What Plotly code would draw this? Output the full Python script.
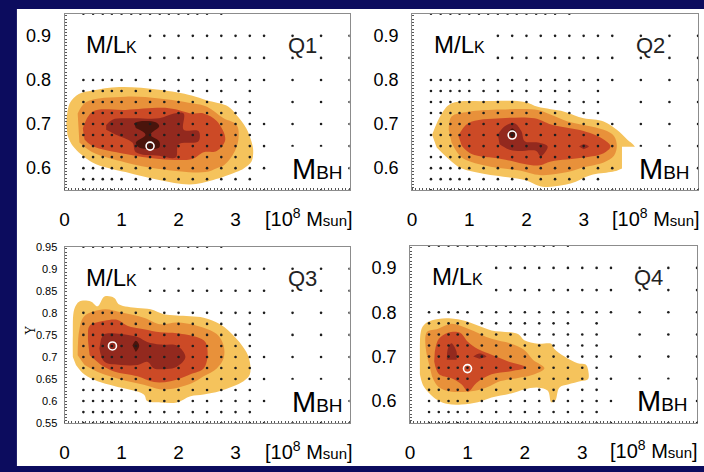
import plotly.graph_objects as go

W, H = 704, 472
BLUE = "#0c0c5e"
C_LEVELS = ["#F5C35C", "#E8913A", "#CC4A26", "#93291E", "#4A140C"]
FONT = "Liberation Sans, Arial, sans-serif"

# ---- model grid (black dots) : columns per row ----
MAIN = [0.33, 0.5, 0.67, 0.83, 1.0, 1.25, 1.5, 1.75, 2.0, 2.25, 2.5, 2.75, 3.0, 3.25]
FAR = [3.5, 4.0, 4.5, 5.0]
TOP_ROW = [0.33, 0.5, 0.67, 0.83, 1.0, 1.17, 1.33, 1.5, 1.67, 1.83, 2.0, 2.17, 2.33, 2.5, 2.75]
UPPER = [1.5, 1.75, 2.0, 2.25, 2.5, 2.75, 3.0, 3.25, 3.5, 4.0, 4.5, 5.0]
GRID_ROWS = [
    (0.95, TOP_ROW), (0.9, UPPER), (0.85, UPPER), (0.8, MAIN + FAR),
    (0.775, [c for c in MAIN if c != 3.0]), (0.75, MAIN + [4.0, 4.5, 5.0]),
    (0.725, MAIN), (0.7, MAIN + FAR), (0.675, MAIN), (0.65, MAIN + FAR),
    (0.625, MAIN), (0.6, MAIN + FAR), (0.575, MAIN), (0.55, MAIN + FAR),
]

# ---- confidence regions (outline vertices, x in 1e8 Msun, y = M/L) ----
Q1_YELLOW = [(0.03, 0.702), (0.09, 0.747), (0.25, 0.768), (0.49, 0.776), (0.96, 0.784), (1.66, 0.778),
             (2.23, 0.765), (2.49, 0.754), (2.87, 0.74), (3.02, 0.72), (3.19, 0.69), (3.28, 0.66),
             (3.31, 0.64), (3.28, 0.615), (3.15, 0.6), (3.01, 0.591), (2.61, 0.573), (2.2, 0.563),
             (1.66, 0.573), (1.07, 0.591), (0.49, 0.613), (0.145, 0.65), (0.05, 0.675)]
Q1_ORANGE = [(0.23, 0.724), (0.38, 0.75), (1.07, 0.762), (1.66, 0.758), (2.24, 0.747), (2.5, 0.739),
             (2.79, 0.713), (3.02, 0.698), (3.05, 0.665), (2.96, 0.632), (2.79, 0.606), (2.67, 0.6),
             (2.47, 0.591), (1.66, 0.598), (1.07, 0.613), (0.49, 0.636), (0.26, 0.658)]
Q1_RED = [(0.32, 0.69), (0.49, 0.728), (1.07, 0.732), (1.83, 0.736), (2.24, 0.724), (2.44, 0.724),
          (2.67, 0.707), (2.82, 0.665), (2.67, 0.639), (2.44, 0.636), (2.24, 0.621), (1.66, 0.621),
          (1.07, 0.632), (0.49, 0.65), (0.35, 0.665)]
Q1_DARK = [(0.73, 0.698), (0.84, 0.71), (1.19, 0.713), (1.66, 0.713), (1.92, 0.724), (2.09, 0.724),
           (2.09, 0.687), (2.35, 0.684), (2.35, 0.661), (2.0, 0.654), (1.95, 0.624), (1.66, 0.628),
           (1.25, 0.636), (1.19, 0.658), (0.9, 0.676), (0.73, 0.687)]
Q1_DARKEST = [(1.22, 0.702), (1.31, 0.706), (1.6, 0.704), (1.66, 0.695), (1.51, 0.676), (1.66, 0.661),
              (1.66, 0.647), (1.31, 0.647), (1.25, 0.658), (1.42, 0.676), (1.25, 0.691)]
Q1_BEST = (1.5, 0.65)

Q2_YELLOW = [(0.35, 0.676), (0.52, 0.724), (0.69, 0.747), (1.27, 0.752), (1.97, 0.75), (2.2, 0.739),
             (2.66, 0.728), (3.0, 0.713), (3.35, 0.706), (3.58, 0.687), (3.76, 0.665), (3.9, 0.647),
             (3.85, 0.615), (3.6, 0.595), (3.47, 0.591), (3.12, 0.584), (2.77, 0.565), (2.28, 0.558),
             (1.97, 0.573), (1.27, 0.587), (0.87, 0.599), (0.64, 0.621), (0.43, 0.647)]
Q2_ORANGE = [(0.64, 0.687), (0.69, 0.717), (0.98, 0.728), (1.56, 0.733), (2.2, 0.732), (2.43, 0.721),
             (2.72, 0.706), (3.35, 0.687), (3.53, 0.673), (3.58, 0.65), (3.53, 0.628), (3.35, 0.613),
             (3.0, 0.602), (2.72, 0.591), (2.25, 0.584), (1.85, 0.595), (1.27, 0.606), (0.87, 0.624),
             (0.69, 0.658)]
Q2_RED = [(0.81, 0.673), (0.98, 0.702), (1.56, 0.713), (2.14, 0.713), (2.43, 0.699), (3.0, 0.684),
          (3.35, 0.665), (3.47, 0.649), (3.35, 0.634), (3.0, 0.624), (2.43, 0.615), (2.2, 0.606),
          (1.56, 0.621), (1.04, 0.632), (0.87, 0.65)]
Q2_DARK = [(1.5, 0.676), (1.62, 0.695), (1.79, 0.702), (1.91, 0.684), (1.97, 0.661), (2.2, 0.658),
           (2.37, 0.649), (2.25, 0.627), (2.17, 0.639), (1.85, 0.639), (1.68, 0.643), (1.53, 0.654)]
Q2_DARK_B = [(2.92, 0.649), (3.0, 0.654), (3.09, 0.649), (3.0, 0.643)]
Q2_DARKEST = [(1.68, 0.68), (1.75, 0.69), (1.82, 0.68), (1.75, 0.666)]
Q2_BEST = (1.75, 0.675)

Q3_YELLOW = [(0.145, 0.7), (0.145, 0.749), (0.17, 0.808), (0.26, 0.826), (0.46, 0.826), (0.58, 0.815),
             (0.7, 0.837), (0.87, 0.834), (0.96, 0.819), (1.28, 0.811), (1.51, 0.808), (1.74, 0.797),
             (1.97, 0.794), (2.44, 0.789), (2.73, 0.774), (3.02, 0.741), (3.19, 0.711), (3.25, 0.689),
             (3.25, 0.66), (3.14, 0.645), (2.73, 0.623), (2.44, 0.615), (2.21, 0.611), (1.97, 0.597),
             (1.68, 0.597), (1.45, 0.6), (1.39, 0.615), (0.87, 0.634), (0.58, 0.645), (0.35, 0.66),
             (0.2, 0.682)]
Q3_ORANGE = [(0.23, 0.704), (0.26, 0.763), (0.35, 0.793), (0.7, 0.808), (0.96, 0.802), (1.39, 0.789),
             (1.68, 0.774), (1.97, 0.778), (2.32, 0.771), (2.67, 0.752), (2.79, 0.726), (2.79, 0.697),
             (2.67, 0.674), (2.44, 0.656), (2.21, 0.639), (1.74, 0.626), (1.39, 0.637), (0.99, 0.649),
             (0.64, 0.663), (0.35, 0.682)]
Q3_RED = [(0.44, 0.704), (0.41, 0.749), (0.44, 0.771), (0.7, 0.782), (0.93, 0.784), (1.1, 0.771),
          (1.39, 0.763), (1.68, 0.756), (1.97, 0.754), (2.32, 0.745), (2.47, 0.734), (2.51, 0.704),
          (2.44, 0.674), (2.21, 0.661), (1.86, 0.645), (1.57, 0.643), (1.28, 0.656), (0.87, 0.667),
          (0.64, 0.682)]
Q3_DARK = [(0.64, 0.741), (0.7, 0.752), (0.99, 0.752), (1.28, 0.745), (1.45, 0.734), (1.68, 0.728),
           (1.97, 0.726), (2.12, 0.7), (1.97, 0.678), (1.8, 0.673), (1.57, 0.674), (1.45, 0.689),
           (1.28, 0.682), (0.99, 0.682), (0.7, 0.689), (0.61, 0.719)]
Q3_DARKEST = [(1.19, 0.726), (1.25, 0.737), (1.31, 0.726), (1.25, 0.711)]
Q3_BEST = (0.84, 0.725)

Q4_YELLOW = [(0.17, 0.726), (0.2, 0.763), (0.29, 0.777), (0.49, 0.785), (0.72, 0.786), (0.95, 0.781),
             (1.18, 0.77), (1.42, 0.759), (1.88, 0.751), (1.99, 0.737), (2.23, 0.729), (2.46, 0.729),
             (2.51, 0.718), (2.69, 0.7), (2.92, 0.685), (3.06, 0.682), (3.1, 0.671), (3.1, 0.649),
             (2.98, 0.645), (2.75, 0.637), (2.6, 0.63), (2.53, 0.601), (2.46, 0.597), (2.4, 0.623),
             (2.23, 0.63), (1.99, 0.626), (1.76, 0.617), (1.42, 0.608), (1.18, 0.597), (0.9, 0.592),
             (0.66, 0.593), (0.49, 0.601), (0.35, 0.615), (0.23, 0.634), (0.17, 0.66)]
Q4_ORANGE = [(0.29, 0.704), (0.29, 0.755), (0.49, 0.763), (0.72, 0.774), (1.01, 0.763), (1.42, 0.74),
             (1.76, 0.729), (1.99, 0.715), (2.14, 0.693), (2.34, 0.674), (2.11, 0.658), (1.88, 0.652),
             (1.53, 0.643), (1.36, 0.632), (1.13, 0.623), (0.72, 0.621), (0.49, 0.632), (0.38, 0.656)]
Q4_RED = [(0.43, 0.711), (0.5, 0.74), (0.66, 0.754), (0.87, 0.754), (1.01, 0.733), (1.18, 0.717),
          (1.42, 0.704), (1.71, 0.689), (2.02, 0.676), (1.76, 0.667), (1.42, 0.66), (1.16, 0.641),
          (1.01, 0.621), (0.9, 0.637), (0.72, 0.651), (0.5, 0.661), (0.42, 0.689)]
Q4_DARK = [(0.64, 0.693), (0.66, 0.719), (0.72, 0.73), (0.81, 0.711), (0.81, 0.693)]
Q4_DARK_B = [(1.1, 0.7), (1.21, 0.707), (1.33, 0.7), (1.21, 0.695)]
Q4_BEST = (1.0, 0.673)

PANELS = [
    dict(name="Q1", regions=[(0, Q1_YELLOW), (1, Q1_ORANGE), (2, Q1_RED), (3, Q1_DARK), (4, Q1_DARKEST)],
         best=Q1_BEST, box=(60, 347, 8, 189)),
    dict(name="Q2", regions=[(0, Q2_YELLOW), (1, Q2_ORANGE), (2, Q2_RED), (3, Q2_DARK), (3, Q2_DARK_B),
                             (4, Q2_DARKEST)],
         best=Q2_BEST, box=(410, 698, 8, 189)),
    dict(name="Q3", regions=[(0, Q3_YELLOW), (1, Q3_ORANGE), (2, Q3_RED), (3, Q3_DARK), (4, Q3_DARKEST)],
         best=Q3_BEST, box=(60, 347, 247, 428)),
    dict(name="Q4", regions=[(0, Q4_YELLOW), (1, Q4_ORANGE), (2, Q4_RED), (3, Q4_DARK), (3, Q4_DARK_B)],
         best=Q4_BEST, box=(408, 697, 246, 428)),
]

X_TICKS = [0, 1, 2, 3]
Y_TICKS = [0.6, 0.7, 0.8, 0.9]
Y_TICKS_FINE = [0.55, 0.6, 0.65, 0.7, 0.75, 0.8, 0.85, 0.9, 0.95]
Y_TICKS_FINE_TEXT = ["0.55", "0.6", "0.65", "0.7", "0.75", "0.8", "0.85", "0.9", "0.95"]


def px(x):
    return x / W


def py(y):
    return 1 - y / H


fig = go.Figure()
layout = dict(
    width=W, height=H, margin=dict(l=0, r=0, t=0, b=0),
    paper_bgcolor=BLUE, plot_bgcolor="white", showlegend=False,
)
shapes = [dict(type="rect", xref="paper", yref="paper", x0=px(12), x1=1.0, y0=0.0, y1=py(3),
               fillcolor="white", line=dict(width=0), layer="below")]
annotations = []

dot_x, dot_y = [], []
for yv, cols in GRID_ROWS:
    for c in cols:
        dot_x.append(c)
        dot_y.append(yv)

for i, p in enumerate(PANELS):
    k = "" if i == 0 else str(i + 1)
    xa, ya = "x" + k, "y" + k
    x0, x1, y0, y1 = p["box"]
    for lvl, poly in p["regions"]:
        fig.add_trace(go.Scatter(x=[v[0] for v in poly], y=[v[1] for v in poly], mode="lines",
                                 fill="toself", fillcolor=C_LEVELS[lvl], line=dict(width=0, color=C_LEVELS[lvl]),
                                 line_shape="spline", hoverinfo="skip", xaxis=xa, yaxis=ya))
    fig.add_trace(go.Scatter(x=dot_x, y=dot_y, mode="markers", marker=dict(size=2.6, color="#1e1e1e"),
                             hoverinfo="skip", xaxis=xa, yaxis=ya))
    fig.add_trace(go.Scatter(x=[p["best"][0]], y=[p["best"][1]], mode="markers",
                             marker=dict(symbol="circle-open", size=8, color="white", line=dict(width=1.6)),
                             xaxis=xa, yaxis=ya))
    fine = (i == 2)
    layout["xaxis" + k] = dict(
        domain=[px(x0), px(x1)], range=[0, 5], anchor=ya, showline=True, mirror=True,
        linecolor="#8c8c8c", linewidth=1, showgrid=False, zeroline=False,
        tickvals=X_TICKS, ticks="", ticklabelstandoff=12, tickfont=dict(family=FONT, size=19, color="black"),
        minor=dict(ticks="inside", ticklen=2, dtick=0.0625, tickcolor="#555", tickwidth=1),
    )
    layout["yaxis" + k] = dict(
        domain=[py(y1), py(y0)], range=[0.55, 0.95], anchor=xa, showline=True, mirror=True,
        linecolor="#8c8c8c", linewidth=1, showgrid=False, zeroline=False,
        tickvals=Y_TICKS_FINE if fine else Y_TICKS,
        ticktext=Y_TICKS_FINE_TEXT if fine else ["0.6", "0.7", "0.8", "0.9"],
        ticks="", ticklabelstandoff=4 if fine else 9,
        tickfont=dict(family=FONT, size=11 if fine else 18, color="black"),
        minor=dict(ticks="inside", ticklen=2, dtick=0.0075, tickcolor="#555", tickwidth=1),
    )
    # white label box behind M_BH
    shapes.append(dict(type="rect", xref=xa, yref=ya, x0=3.67, x1=4.92, y0=0.566, y1=0.6485,
                       fillcolor="white", line=dict(width=0), layer="above"))
    # texts
    dx = x0 - 60
    dy = y0 - 8
    annotations += [
        dict(text="M/L<span style='font-size:16px'>K</span>", x=px(80 + dx), y=py(40 + dy),
             xref="paper", yref="paper", xanchor="left", yanchor="middle", showarrow=False,
             font=dict(family=FONT, size=24, color="black")),
        dict(text=p["name"], x=px(300 + dx), y=py(41 + dy), xref="paper", yref="paper",
             xanchor="center", yanchor="middle", showarrow=False, font=dict(family=FONT, size=22, color="#222")),
        dict(text="M<span style='font-size:19px'>BH</span>", x=px(287 + dx), y=py(167 + dy),
             xref="paper", yref="paper", xanchor="left", yanchor="middle", showarrow=False,
             font=dict(family=FONT, size=29, color="black")),
        dict(text="[10<sup>8</sup> M<span style='font-size:15px'>sun</span>]", x=px(306 + dx),
             y=py(217 + dy), xref="paper", yref="paper", xanchor="center", yanchor="middle",
             showarrow=False, font=dict(family=FONT, size=20, color="black")),
    ]

annotations.append(dict(text="\u03a5", x=px(17), y=py(340), xref="paper", yref="paper", textangle=-90,
                        showarrow=False, font=dict(family="DejaVu Serif, serif", size=12, color="black")))

layout["shapes"] = shapes
layout["annotations"] = annotations
fig.update_layout(**layout)
fig.write_html("out.html")
